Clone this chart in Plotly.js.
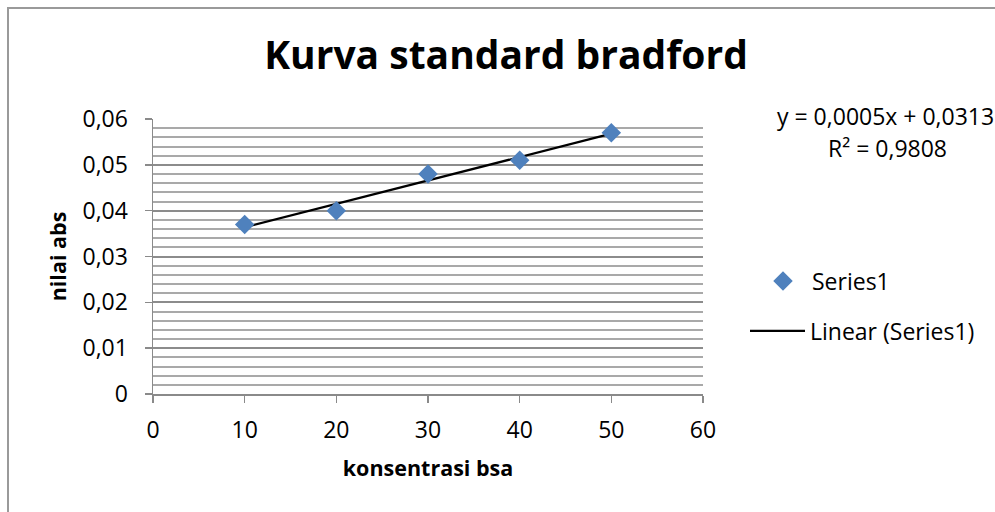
<!DOCTYPE html>
<html>
<head>
<meta charset="utf-8">
<script src="https://cdn.plot.ly/plotly-3.0.1.min.js"></script>
<style>
  html, body { margin: 0; padding: 0; background: #ffffff; overflow: hidden; }
  #wrap { position: relative; width: 995px; height: 512px; }
  #chart { position: absolute; left: 0; top: 0; width: 995px; height: 512px; }
  #frame { position: absolute; left: 7px; top: 7px; width: 1100px; height: 700px;
           border-left: 2px solid #9a9a9a; border-top: 2px solid #9a9a9a; pointer-events: none; }
</style>
</head>
<body>
<div id="wrap">
  <div id="chart"></div>
  <div id="frame"></div>
</div>
<script>
// ---- data ----
const konsentrasi = [10, 20, 30, 40, 50];
const nilaiAbs = [0.037, 0.040, 0.048, 0.051, 0.057];
const seriesName = 'Series1';
const trendName = 'Linear (Series1)';
const xTickVals = [0, 10, 20, 30, 40, 50, 60];
const yTickVals = [0, 0.01, 0.02, 0.03, 0.04, 0.05, 0.06];
const yTickText = ['0', '0,01', '0,02', '0,03', '0,04', '0,05', '0,06'];
const equationText = 'y = 0,0005x + 0,0313';
const r2Text = 'R² = 0,9808';

// least squares trend line from the data
const n = konsentrasi.length;
const mx = konsentrasi.reduce((a, b) => a + b, 0) / n;
const my = nilaiAbs.reduce((a, b) => a + b, 0) / n;
let sxy = 0, sxx = 0;
for (let i = 0; i < n; i++) {
  sxy += (konsentrasi[i] - mx) * (nilaiAbs[i] - my);
  sxx += (konsentrasi[i] - mx) * (konsentrasi[i] - mx);
}
const slope = sxy / sxx;
const intercept = my - slope * mx;
const trendX = [Math.min(...konsentrasi), Math.max(...konsentrasi)];
const trendY = trendX.map(x => intercept + slope * x);

const FONT = 'Open Sans, Lato, sans-serif';
const axisGray = '#8a8a8a';

const traces = [
  {
    type: 'scatter', mode: 'lines', x: trendX, y: trendY, name: trendName,
    line: { color: '#000000', width: 2.2 }, legend: 'legend2', showlegend: true
  },
  {
    type: 'scatter', mode: 'markers', x: konsentrasi, y: nilaiAbs, name: seriesName,
    marker: { symbol: 'diamond', size: 15, color: '#4f81bd', line: { width: 0 } },
    legend: 'legend', showlegend: true
  }
];

const layout = {
  width: 995, height: 512,
  margin: { l: 153, r: 292, t: 119, b: 118, pad: 0 },
  paper_bgcolor: '#ffffff', plot_bgcolor: '#ffffff',
  font: { family: FONT, size: 23, color: '#000000' },
  title: {
    text: '<b>Kurva standard bradford</b>',
    font: { family: FONT, size: 39, color: '#000000' },
    x: 506 / 995, xref: 'container', xanchor: 'center',
    y: 1 - 55 / 512, yref: 'container', yanchor: 'middle'
  },
  xaxis: {
    range: [0, 60], tickmode: 'array', tickvals: xTickVals,
    showgrid: false, zeroline: false,
    showline: true, linecolor: axisGray, linewidth: 1.5,
    ticks: 'outside', ticklen: 7, tickwidth: 1.5, tickcolor: axisGray,
    ticklabelstandoff: 8,
    tickfont: { family: FONT, size: 23, color: '#000000' },
    title: { text: '<b>konsentrasi bsa</b>', font: { family: FONT, size: 21.5, color: '#000000' }, standoff: 17 },
    automargin: false, fixedrange: true
  },
  yaxis: {
    range: [0, 0.06], tickmode: 'array', tickvals: yTickVals, ticktext: yTickText,
    showgrid: true, gridcolor: '#8c8c8c', gridwidth: 2,
    minor: { dtick: 0.002, showgrid: true, gridcolor: '#a9a9a9', gridwidth: 2, ticks: '' },
    zeroline: false,
    showline: true, linecolor: axisGray, linewidth: 1.5,
    ticks: 'outside', ticklen: 7, tickwidth: 1.5, tickcolor: axisGray,
    ticklabelstandoff: 12,
    tickfont: { family: FONT, size: 23, color: '#000000' },
    title: { text: '<b>nilai abs</b>', font: { family: FONT, size: 21.5, color: '#000000' }, standoff: 10 },
    automargin: false, fixedrange: true
  },
  legend: {
    x: (754 - 153) / 550, xanchor: 'left', xref: 'paper',
    y: (394 - 281) / 275, yanchor: 'middle', yref: 'paper',
    bgcolor: 'rgba(0,0,0,0)', borderwidth: 0,
    font: { family: FONT, size: 23, color: '#000000' }, itemwidth: 48
  },
  legend2: {
    x: (745 - 153) / 550, xanchor: 'left', xref: 'paper',
    y: (394 - 331) / 275, yanchor: 'middle', yref: 'paper',
    bgcolor: 'rgba(0,0,0,0)', borderwidth: 0,
    font: { family: FONT, size: 23, color: '#000000' }, itemwidth: 55
  },
  annotations: [
    {
      text: equationText, showarrow: false,
      xref: 'paper', yref: 'paper',
      x: (885 - 153) / 550, xanchor: 'center',
      y: (394 - 116) / 275, yanchor: 'middle',
      font: { family: FONT, size: 23, color: '#000000' }
    },
    {
      text: r2Text, showarrow: false,
      xref: 'paper', yref: 'paper',
      x: (887 - 153) / 550, xanchor: 'center',
      y: (394 - 148) / 275, yanchor: 'middle',
      font: { family: FONT, size: 23, color: '#000000' }
    }
  ],
  showlegend: true
};

Plotly.newPlot('chart', traces, layout, { staticPlot: true, displayModeBar: false });
</script>
</body>
</html>
